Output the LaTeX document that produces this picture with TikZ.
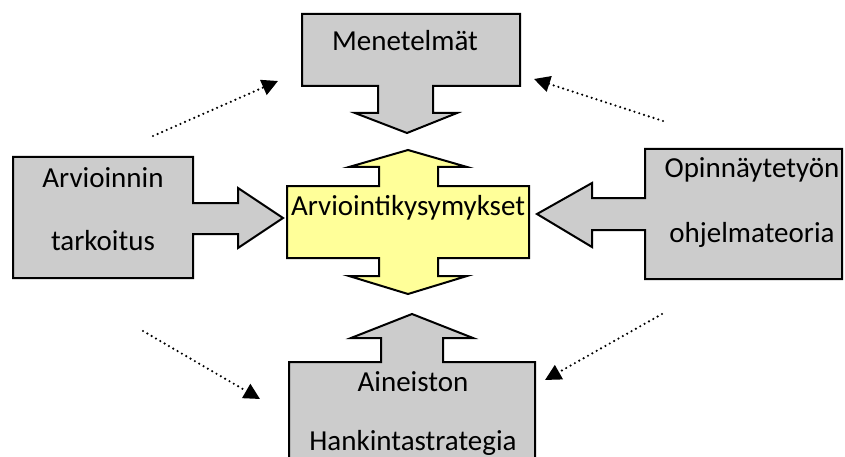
\documentclass[tikz,border=0pt]{standalone}
\usepackage{fontspec}
\setmainfont{Carlito}
\usetikzlibrary{arrows.meta}
\definecolor{boxgray}{RGB}{204,204,204}
\definecolor{boxyellow}{RGB}{255,255,153}
\tikzset{
  blockarrow/.style={draw=black, line width=2pt, line join=miter, fill=boxgray},
  hub/.style={blockarrow, fill=boxyellow},
  caption/.style={anchor=base, inner sep=0pt, font=\fontsize{29}{34}\selectfont},
  hint/.style={line width=2.4pt, dash pattern=on 0pt off 5pt, line cap=round,
    -{Triangle[length=16pt,width=16pt]}}
}
\begin{document}
\begin{tikzpicture}[x=1pt, y=-1pt]
  \useasboundingbox (0,0) rectangle (845,457);
  \clip (0,0) rectangle (845,457);

  % central double-headed cross: the questions
  \filldraw[hub] (408,150) -- (467,167) -- (438,167) -- (438,186) -- (529,186)
    -- (529,258) -- (438,258) -- (438,276) -- (467,276) -- (408,294) -- (349,276)
    -- (379,276) -- (379,258) -- (287,258) -- (287,186) -- (379,186) -- (379,167)
    -- (349,167) -- cycle;
  \node[caption] (kysymykset) at (408,215) {Arviointikysymykset};

  % top: methods, pointing down
  \filldraw[blockarrow] (302,14) -- (520,14) -- (520,86) -- (433,86) -- (433,113)
    -- (457,113) -- (407,133) -- (355,113) -- (378,113) -- (378,86) -- (302,86) -- cycle;
  \node[caption] (menetelmat) at (405,51) {Menetelmät};

  % left: purpose, pointing right
  \filldraw[blockarrow] (13,157) -- (193,157) -- (193,203) -- (238,203) -- (238,188)
    -- (283,218) -- (238,248) -- (238,234) -- (193,234) -- (193,278) -- (13,278) -- cycle;
  \node[caption] (tarkoitus1) at (103,187) {Arvioinnin};
  \node[caption] (tarkoitus2) at (103,250) {tarkoitus};

  % right: programme theory, pointing left
  \filldraw[blockarrow] (842,149) -- (842,279) -- (645,279) -- (645,230) -- (592,230)
    -- (592,247) -- (537,214) -- (592,183) -- (592,198) -- (645,198) -- (645,149) -- cycle;
  \node[caption] (teoria1) at (752,178) {Opinnäytetyön};
  \node[caption] (teoria2) at (752,242) {ohjelmateoria};

  % bottom: data collection strategy, pointing up
  \filldraw[blockarrow] (412,314) -- (473,338) -- (443,338) -- (443,362) -- (535,362)
    -- (535,475) -- (289,475) -- (289,362) -- (381,362) -- (381,338) -- (351,338) -- cycle;
  \node[caption] (aineisto1) at (413,391) {Aineiston};
  \node[caption] (aineisto2) at (413,450) {Hankintastrategia};

  % dotted interaction arrows between the corner blocks
  \coordinate (ulS) at (153,136);  \coordinate (ulE) at (278,81);
  \coordinate (urS) at (663,121);  \coordinate (urE) at (534,79);
  \coordinate (llS) at (143,331);  \coordinate (llE) at (260,399);
  \coordinate (lrS) at (662,314);  \coordinate (lrE) at (545,380);
  \draw[hint] (ulS) -- (ulE);
  \draw[hint] (urS) -- (urE);
  \draw[hint] (llS) -- (llE);
  \draw[hint] (lrS) -- (lrE);
\end{tikzpicture}
\end{document}
